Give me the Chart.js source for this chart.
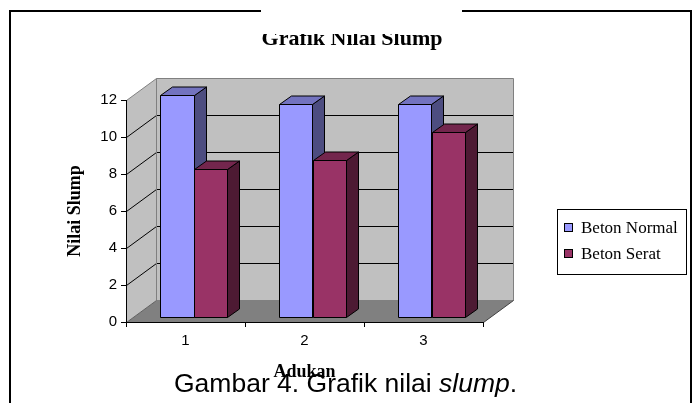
<!DOCTYPE html>
<html>
<head>
<meta charset="utf-8">
<script src="https://cdn.jsdelivr.net/npm/chart.js@4.4.1/dist/chart.umd.min.js"></script>
<style>
    html, body { margin: 0; padding: 0; background: #fff; }
    #wrap { position: relative; width: 696px; height: 403px; }
</style>
</head>
<body>
<div id="wrap"><canvas id="myChart" width="696" height="403"></canvas></div>
<script>
const adukan = ['1', '2', '3'];
const betonNormal = [12, 11.5, 11.5];
const betonSerat = [8, 8.5, 10];
const seriesNames = ['Beton Normal', 'Beton Serat'];
const yTicks = [0, 2, 4, 6, 8, 10, 12];

// warna: muka depan, samping, atas
const faces = [
    { front: '#9999ff', side: '#4d4d80', top: '#7373bf' },
    { front: '#993366', side: '#4d1a33', top: '#73264d' }
];
const wallDepth = { dx: 30, dy: -22 };
const barShift = { dx: 8, dy: -5 };
const barDepth = { dx: 12, dy: -8.5 };

const sans = '"Liberation Sans", Arial, sans-serif';
const serif = '"Liberation Serif", "Times New Roman", serif';

function poly(ctx, pts, fill, stroke) {
    ctx.beginPath();
    ctx.moveTo(pts[0][0], pts[0][1]);
    for (let i = 1; i < pts.length; i++) ctx.lineTo(pts[i][0], pts[i][1]);
    ctx.closePath();
    if (fill) { ctx.fillStyle = fill; ctx.fill(); }
    if (stroke) { ctx.strokeStyle = stroke; ctx.stroke(); }
}

function line(ctx, pts, color) {
    ctx.beginPath();
    ctx.moveTo(pts[0][0], pts[0][1]);
    for (let i = 1; i < pts.length; i++) ctx.lineTo(pts[i][0], pts[i][1]);
    ctx.strokeStyle = color;
    ctx.stroke();
}

const walls = {
    id: 'walls',
    beforeDraw(chart) {
        const ctx = chart.ctx;
        const ys = chart.scales.y;
        const L = chart.chartArea.left + 0.5, R = chart.chartArea.right + 0.5;
        const B = Math.round(ys.getPixelForValue(0)) + 0.5;
        const T = Math.round(ys.getPixelForValue(ys.max)) + 0.5;
        const dx = wallDepth.dx, dy = wallDepth.dy;
        ctx.save();
        ctx.lineWidth = 1;
        poly(ctx, [[L + dx, T + dy], [R + dx, T + dy], [R + dx, B + dy], [L + dx, B + dy]], '#c0c0c0');
        poly(ctx, [[L, B], [L, T], [L + dx, T + dy], [L + dx, B + dy]], '#c0c0c0');
        poly(ctx, [[L, B], [L + dx, B + dy], [R + dx, B + dy], [R, B]], '#808080');
        ys.ticks.forEach(t => {
            if (t.value === 0 || t.value === ys.max) return;
            const py = Math.round(ys.getPixelForValue(t.value)) + 0.5;
            line(ctx, [[L, py], [L + dx, py + dy], [R + dx, py + dy]], '#000');
        });
        line(ctx, [[L, T], [L + dx, T + dy], [R + dx, T + dy], [R + dx, B + dy]], '#808080');
        line(ctx, [[L + dx, T + dy], [L + dx, B + dy], [R + dx, B + dy]], '#808080');
        line(ctx, [[L, B], [L + dx, B + dy]], '#606060');
        line(ctx, [[R, B], [R + dx, B + dy]], '#404040');
        ctx.restore();
    }
};

const bars3d = {
    id: 'bars3d',
    afterDatasetsDraw(chart) {
        const ctx = chart.ctx;
        ctx.save();
        ctx.lineWidth = 1;
        chart.data.datasets.forEach((ds, i) => {
            const f = faces[i];
            chart.getDatasetMeta(i).data.forEach(bar => {
                const p = bar.getProps(['x', 'y', 'base', 'width'], true);
                const x0 = Math.round(p.x - p.width / 2 + barShift.dx) + 0.5;
                const x1 = Math.round(p.x + p.width / 2 + barShift.dx) + 0.5;
                const yt = Math.round(p.y + barShift.dy) + 0.5;
                const yb = Math.round(p.base + barShift.dy) + 0.5;
                const dx = barDepth.dx, dy = barDepth.dy;
                poly(ctx, [[x1, yb], [x1, yt], [x1 + dx, yt + dy], [x1 + dx, yb + dy]], f.side, '#000');
                poly(ctx, [[x0, yt], [x0 + dx, yt + dy], [x1 + dx, yt + dy], [x1, yt]], f.top, '#000');
                poly(ctx, [[x0, yt], [x1, yt], [x1, yb], [x0, yb]], f.front, '#000');
            });
        });
        ctx.restore();
    }
};

const decor = {
    id: 'decor',
    afterDraw(chart) {
        const ctx = chart.ctx;
        ctx.save();
        // legenda
        ctx.lineWidth = 1;
        ctx.strokeStyle = '#000';
        ctx.strokeRect(557.5, 209.5, 129, 65);
        ctx.font = '17px ' + serif;
        ctx.textBaseline = 'middle';
        ctx.textAlign = 'left';
        seriesNames.forEach((name, i) => {
            const cy = 228 + i * 26;
            ctx.fillStyle = faces[i].front;
            ctx.fillRect(564.5, cy - 4.5, 8, 8);
            ctx.strokeRect(564.5, cy - 4.5, 8, 8);
            ctx.fillStyle = '#000';
            ctx.fillText(name, 581, cy + 1);
        });
        // bingkai
        ctx.lineWidth = 2;
        ctx.strokeRect(10, 11, 681, 400);
        // judul
        ctx.font = 'bold 22px ' + serif;
        ctx.textAlign = 'center';
        ctx.textBaseline = 'alphabetic';
        ctx.fillText('Grafik Nilai Slump', 352, 45);
        ctx.fillStyle = '#fff';
        ctx.fillRect(261, 0, 201, 34);
        // keterangan gambar
        ctx.fillStyle = '#000';
        ctx.textAlign = 'left';
        let x = 174;
        const cap = [['Gambar 4. Grafik nilai ', ''], ['slump', 'italic '], ['.', '']];
        cap.forEach(c => {
            ctx.font = c[1] + '26.5px ' + sans;
            ctx.fillText(c[0], x, 392);
            x += ctx.measureText(c[0]).width;
        });
        ctx.restore();
    }
};

Chart.defaults.color = '#000';

const myChart = new Chart(document.getElementById('myChart'), {
    type: 'bar',
    data: {
        labels: adukan,
        datasets: [
            { label: seriesNames[0], data: betonNormal, backgroundColor: 'rgba(0,0,0,0)', borderWidth: 0 },
            { label: seriesNames[1], data: betonSerat, backgroundColor: 'rgba(0,0,0,0)', borderWidth: 0 }
        ]
    },
    options: {
        responsive: false,
        animation: false,
        devicePixelRatio: 1,
        events: [],
        layout: { padding: { left: 50, top: 100, right: 213, bottom: 0 } },
        datasets: { bar: { categoryPercentage: 0.565, barPercentage: 1 } },
        plugins: {
            legend: { display: false },
            tooltip: { enabled: false },
            title: { display: false }
        },
        scales: {
            x: {
                grid: { offset: true, drawOnChartArea: false, color: '#000', tickLength: 5 },
                border: { color: '#000', width: 1 },
                ticks: { color: '#000', font: { family: sans, size: 15 }, padding: 5 },
                title: {
                    display: true, text: 'Adukan', color: '#000',
                    font: { family: serif, size: 18, weight: 'bold' },
                    padding: { top: 0, bottom: 20 }
                },
                afterFit: s => { s.height = 81; }
            },
            y: {
                min: 0,
                max: 12,
                afterBuildTicks: s => { s.ticks = yTicks.map(v => ({ value: v })); },
                grid: { drawOnChartArea: false, color: '#000', tickLength: 5 },
                border: { color: '#000', width: 1 },
                ticks: { color: '#000', font: { family: sans, size: 15 }, padding: 4 },
                title: {
                    display: true, text: 'Nilai Slump', color: '#000',
                    font: { family: serif, size: 18, weight: 'bold' },
                    padding: { top: 15, bottom: 0 }
                },
                afterFit: s => { s.width = 76; }
            }
        }
    },
    plugins: [walls, bars3d, decor]
});
</script>
</body>
</html>
